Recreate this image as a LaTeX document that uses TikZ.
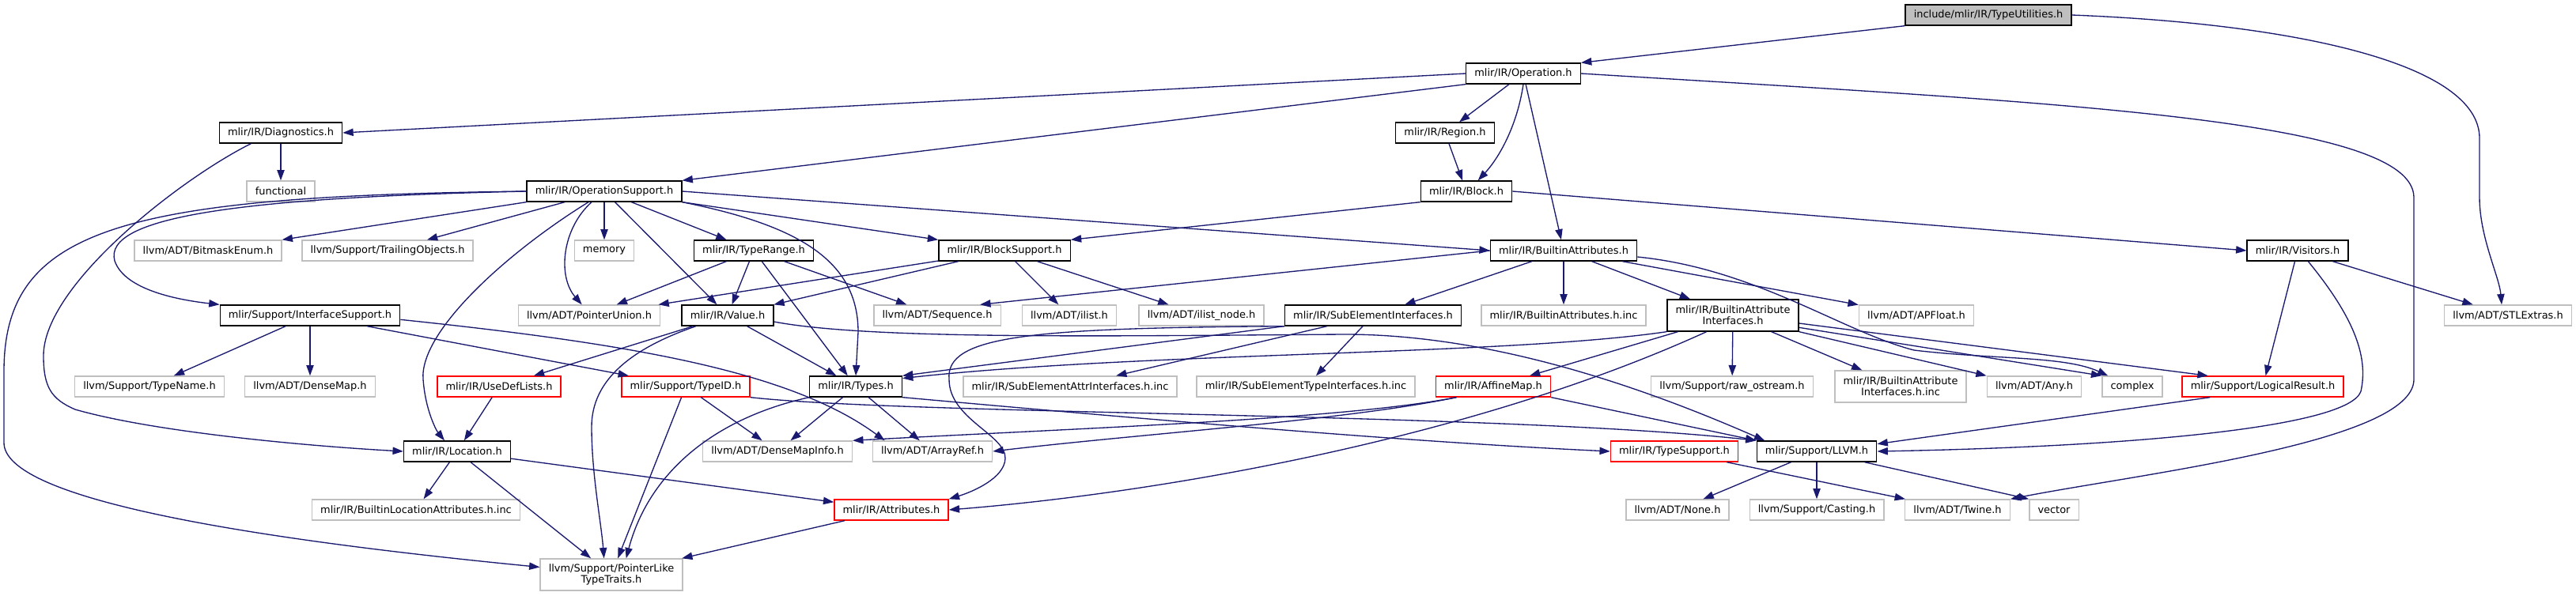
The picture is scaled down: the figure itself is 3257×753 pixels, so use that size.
\documentclass[tikz,border=0pt]{standalone}
\usepackage{fontspec}
\setmainfont{DejaVu Sans}
\usetikzlibrary{arrows.meta}
\definecolor{edgeblue}{HTML}{191970}
\definecolor{boxgray}{HTML}{BFBFBF}
\definecolor{boxred}{HTML}{FF0000}
\tikzset{
  hdrfile/.style={draw=black, line width=1pt, fill=white, inner xsep=8pt,
    minimum height=19.5pt, align=center, font=\fontsize{9.7}{10.7}\selectfont},
  extfile/.style={hdrfile, draw=boxgray},
  redfile/.style={hdrfile, draw=boxred},
  rootfile/.style={hdrfile, fill=boxgray},
  twoline/.style={minimum height=30pt},
  inc/.style={draw=edgeblue, line width=1pt, -{Triangle[length=10pt,width=7pt]}},
}
\begin{document}
\begin{tikzpicture}[x=0.75pt, y=-0.75pt]
  \useasboundingbox (0,0) rectangle (3257,753);

  % files
  \node[rootfile] (tu) at (2514,19) {include/mlir/IR/TypeUtilities.h};
  \node[hdrfile] (op) at (1926,93) {mlir/IR/Operation.h};
  \node[hdrfile] (diag) at (355,168) {mlir/IR/Diagnostics.h};
  \node[hdrfile] (region) at (1827,168) {mlir/IR/Region.h};
  \node[extfile] (func) at (355,242) {functional};
  \node[hdrfile] (opsup) at (764,242) {mlir/IR/OperationSupport.h};
  \node[hdrfile] (block) at (1854,242) {mlir/IR/Block.h};
  \node[extfile] (bitmask) at (263,317) {llvm/ADT/BitmaskEnum.h};
  \node[extfile] (trailing) at (490,317) {llvm/Support/TrailingObjects.h};
  \node[extfile] (memory) at (764,317) {memory};
  \node[hdrfile] (typerange) at (953,317) {mlir/IR/TypeRange.h};
  \node[hdrfile] (blocksup) at (1270,317) {mlir/IR/BlockSupport.h};
  \node[hdrfile] (battr) at (1977,317) {mlir/IR/BuiltinAttributes.h};
  \node[hdrfile] (visitors) at (2905,317) {mlir/IR/Visitors.h};
  \node[hdrfile] (ifsup) at (392,399) {mlir/Support/InterfaceSupport.h};
  \node[extfile] (ptrunion) at (745,399) {llvm/ADT/PointerUnion.h};
  \node[hdrfile] (value) at (920,399) {mlir/IR/Value.h};
  \node[extfile] (sequence) at (1185,399) {llvm/ADT/Sequence.h};
  \node[extfile] (ilist) at (1352,399) {llvm/ADT/ilist.h};
  \node[extfile] (ilistnode) at (1519,399) {llvm/ADT/ilist\_node.h};
  \node[hdrfile] (subelem) at (1736,399) {mlir/IR/SubElementInterfaces.h};
  \node[extfile] (battrinc) at (1977,399) {mlir/IR/BuiltinAttributes.h.inc};
  \node[hdrfile, twoline] (baif) at (2191,399) {mlir/IR/BuiltinAttribute\\Interfaces.h};
  \node[extfile] (apfloat) at (2423,399) {llvm/ADT/APFloat.h};
  \node[extfile] (stlextras) at (3171,399) {llvm/ADT/STLExtras.h};
  \node[extfile] (typename) at (189,489) {llvm/Support/TypeName.h};
  \node[extfile] (densemap) at (392,489) {llvm/ADT/DenseMap.h};
  \node[redfile] (usedef) at (631,489) {mlir/IR/UseDefLists.h};
  \node[redfile] (typeid) at (867,489) {mlir/Support/TypeID.h};
  \node[hdrfile] (types) at (1082,489) {mlir/IR/Types.h};
  \node[extfile] (seattrinc) at (1353,489) {mlir/IR/SubElementAttrInterfaces.h.inc};
  \node[extfile] (setypeinc) at (1651,489) {mlir/IR/SubElementTypeInterfaces.h.inc};
  \node[redfile] (affine) at (1888,489) {mlir/IR/AffineMap.h};
  \node[extfile] (rawos) at (2190,489) {llvm/Support/raw\_ostream.h};
  \node[extfile, twoline] (baifinc) at (2403,489) {mlir/IR/BuiltinAttribute\\Interfaces.h.inc};
  \node[extfile] (any) at (2572,489) {llvm/ADT/Any.h};
  \node[extfile] (complex) at (2696,489) {complex};
  \node[redfile] (logical) at (2861,489) {mlir/Support/LogicalResult.h};
  \node[hdrfile] (location) at (578,571) {mlir/IR/Location.h};
  \node[extfile] (dmi) at (983,571) {llvm/ADT/DenseMapInfo.h};
  \node[extfile] (arrayref) at (1179,571) {llvm/ADT/ArrayRef.h};
  \node[redfile] (typesup) at (2117,571) {mlir/IR/TypeSupport.h};
  \node[hdrfile] (llvm) at (2297,571) {mlir/Support/LLVM.h};
  \node[extfile] (bla) at (526,645) {mlir/IR/BuiltinLocationAttributes.h.inc};
  \node[redfile] (attrs) at (1127,645) {mlir/IR/Attributes.h};
  \node[extfile] (none) at (2121,645) {llvm/ADT/None.h};
  \node[extfile] (casting) at (2297,645) {llvm/Support/Casting.h};
  \node[extfile] (twine) at (2475,645) {llvm/ADT/Twine.h};
  \node[extfile] (vector) at (2597,645) {vector};
  \node[extfile, twoline] (ptrlike) at (773,727) {llvm/Support/PointerLike\\TypeTraits.h};

  % TypeUtilities.h and Operation.h
  \draw[inc] (tu.south west) -- (op.north east);
  \draw[inc] (tu.east) .. controls (2900,30) and (3135,80) .. (3135,175) -- (3135,250)
    .. controls (3135,300) and (3160,350) .. ([xshift=-6pt]stlextras.north);
  \draw[inc] (op.west) -- (diag.east);
  \draw[inc] (op.south west) -- (opsup.north east);
  \draw[inc] (op) -- (region);
  \draw[inc] (op.south) .. controls (1918,160) and (1895,200) .. ([xshift=11pt]block.north);
  \draw[inc] (op) -- (battr);
  \draw[inc] (op.east) .. controls (2600,130) and (3052,150) .. (3052,250) -- (3052,480)
    .. controls (3052,560) and (2700,600) .. (twine.north east);

  % Diagnostics.h, Region.h, Block.h
  \draw[inc] (diag) -- (func);
  \draw[inc] (diag.-160) .. controls (230,225) and (55,360) .. (55,450)
    .. controls (55,490) and (65,505) .. (95,518) .. controls (200,548) and (400,565) .. (location.west);
  \draw[inc] (region) -- (block);
  \draw[inc] (block.south west) -- (blocksup.north east);
  \draw[inc] (block.east) -- (visitors.west);

  % OperationSupport.h
  \draw[inc] (opsup.west) .. controls (300,250) and (130,275) .. (145,330)
    .. controls (158,368) and (230,380) .. (ifsup.north west);
  \draw[inc] (opsup.west) .. controls (150,248) and (5,290) .. (5,470) -- (5,560)
    .. controls (5,630) and (300,680) .. (ptrlike.174);
  \draw[inc] (opsup.south west) -- (bitmask.north east);
  \draw[inc] (opsup) -- (trailing);
  \draw[inc] (opsup) -- (memory);
  \draw[inc] ([xshift=-12pt]opsup.south) .. controls (710,290) and (705,350) .. ([xshift=-7pt]ptrunion.north);
  \draw[inc] ([xshift=-15pt]opsup.south) .. controls (640,320) and (530,420) .. (535,480)
    .. controls (538,520) and (552,545) .. ([xshift=-12pt]location.north);
  \draw[inc] (opsup) -- (value);
  \draw[inc] (opsup) -- (typerange);
  \draw[inc] (opsup.south east) -- (blocksup.north west);
  \draw[inc] (opsup.east) -- (battr.west);
  \draw[inc] (opsup.south east) .. controls (1010,285) and (1085,330) .. (1085,420) -- (types.north);

  % TypeRange.h, BlockSupport.h
  \draw[inc] (typerange) -- (ptrunion);
  \draw[inc] (typerange) -- (value);
  \draw[inc] (typerange) -- (types);
  \draw[inc] (typerange) -- (sequence);
  \draw[inc] (blocksup) -- (ptrunion);
  \draw[inc] (blocksup) -- (value);
  \draw[inc] (blocksup) -- (ilist);
  \draw[inc] (blocksup) -- (ilistnode);

  % BuiltinAttributes.h
  \draw[inc] (battr.west) -- ([xshift=-20pt]sequence.north east);
  \draw[inc] (battr) -- (subelem);
  \draw[inc] (battr) -- (battrinc);
  \draw[inc] (battr) -- (baif);
  \draw[inc] (battr) -- (apfloat);
  \draw[inc] ([yshift=-6pt]battr.east) .. controls (2220,340) and (2330,420) .. (2420,443)
    .. controls (2520,455) and (2610,450) .. ([xshift=6pt]complex.north west);

  % Visitors.h
  \draw[inc] (visitors) -- (logical);
  \draw[inc] ([xshift=10pt]visitors.south) .. controls (2975,400) and (2995,450) .. (2985,495)
    .. controls (2970,540) and (2700,565) .. (llvm.east);
  \draw[inc] (visitors) -- (stlextras);

  % InterfaceSupport.h
  \draw[inc] (ifsup) -- (typename);
  \draw[inc] (ifsup) -- (densemap);
  \draw[inc] (ifsup) -- (typeid);
  \draw[inc] ([yshift=-4pt]ifsup.east) .. controls (800,435) and (1000,470) .. ([xshift=12pt]arrayref.north west);

  % Value.h
  \draw[inc] (value) -- (usedef);
  \draw[inc] (value) -- (types);
  \draw[inc] ([xshift=-30pt]value.south) .. controls (800,440) and (748,480) .. (748,540)
    .. controls (748,600) and (760,660) .. ([xshift=-7pt]ptrlike.north);
  \draw[inc] ([yshift=-6pt]value.east) .. controls (1100,430) and (1400,425) .. (1700,423)
    .. controls (1900,423) and (2100,500) .. ([xshift=8pt]llvm.north west);

  % SubElementInterfaces.h
  \draw[inc] (subelem.south west) -- (types.north east);
  \draw[inc] (subelem) -- (seattrinc);
  \draw[inc] (subelem) -- (setypeinc);
  \draw[inc] (subelem.south west) .. controls (1300,415) and (1195,425) .. (1200,480)
    .. controls (1200,530) and (1272,550) .. (1271,580) .. controls (1270,605) and (1230,622) .. (attrs.north east);

  % BuiltinAttributeInterfaces.h
  \draw[inc] (baif.south west) .. controls (1900,450) and (1450,445) .. (types.10);
  \draw[inc] (baif) -- (affine);
  \draw[inc] ([xshift=-25pt]baif.south) .. controls (1850,560) and (1450,625) .. (attrs.east);
  \draw[inc] (baif) -- (rawos);
  \draw[inc] (baif) -- (baifinc);
  \draw[inc] (baif.south east) -- (any.north west);
  \draw[inc] ([yshift=4pt]baif.south east) -- (complex.north west);
  \draw[inc] ([yshift=8pt]baif.south east) -- ([xshift=25pt]logical.north west);

  % Location.h, UseDefLists.h, TypeID.h, Types.h
  \draw[inc] (location) -- (bla);
  \draw[inc] (location) -- (attrs);
  \draw[inc] (location) -- (ptrlike);
  \draw[inc] (usedef) -- (location);
  \draw[inc] (typeid) -- (ptrlike);
  \draw[inc] (typeid) -- (dmi);
  \draw[inc] (typeid.south east) .. controls (1150,525) and (1900,522) .. (llvm.north west);
  \draw[inc] (types) -- (dmi);
  \draw[inc] (types) -- (arrayref);
  \draw[inc] (types.south east) .. controls (1500,535) and (1800,560) .. (typesup.west);
  \draw[inc] (types.south west) .. controls (900,530) and (820,600) .. ([xshift=14pt]ptrlike.north);

  % AffineMap.h, TypeSupport.h, LogicalResult.h, LLVM.h, Attributes.h
  \draw[inc] ([xshift=20pt]affine.south west) .. controls (1700,530) and (1400,540) .. (dmi.north east);
  \draw[inc] ([xshift=20pt]affine.south west) .. controls (1700,532) and (1450,548) .. (arrayref.east);
  \draw[inc] (affine.south east) -- (llvm.north west);
  \draw[inc] (typesup) -- (twine);
  \draw[inc] ([xshift=-50pt]logical.south) -- ([yshift=7pt]llvm.east);
  \draw[inc] (llvm) -- (none);
  \draw[inc] (llvm) -- (casting);
  \draw[inc] ([xshift=-12pt]llvm.south east) -- (vector.north west);
  \draw[inc] (attrs) -- (ptrlike);
\end{tikzpicture}
\end{document}
